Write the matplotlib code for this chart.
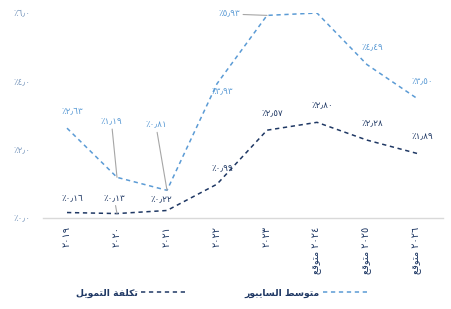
import matplotlib
matplotlib.use("Agg")
import matplotlib.pyplot as plt
from matplotlib.lines import Line2D

plt.rcParams['font.family'] = ['DejaVu Sans']

# ---------------- data ----------------
years = ["٢٠١٩", "٢٠٢٠", "٢٠٢١", "٢٠٢٢", "٢٠٢٣", "٢٠٢٤", "٢٠٢٥", "٢٠٢٦"]
forecast = [False, False, False, False, False, True, True, True]
sibor = [2.63, 1.19, 0.81, 3.93, 5.93, 6.00, 4.49, 3.50]
sibor_labels = ["٢٫٦٣", "١٫١٩", "٠٫٨١", "٣٫٩٣", "٥٫٩٣", None, "٤٫٤٩", "٣٫٥٠"]
cost = [0.16, 0.13, 0.22, 0.99, 2.57, 2.80, 2.28, 1.89]
cost_labels = ["٠٫١٦", "٠٫١٣", "٠٫٢٢", "٠٫٩٩", "٢٫٥٧", "٢٫٨٠", "٢٫٢٨", "١٫٨٩"]
yticks = [0, 2, 4, 6]
ytick_labels = ["٠٫٠", "٢٫٠", "٤٫٠", "٦٫٠"]
name_sibor = "متوسط السايبور"
name_cost = "تكلفة التمويل"
word_forecast = "متوقع"

# label offsets (points) and leader flags
sibor_off = [(4, 12), (-4, 40), (-8, 47), (4, -6), (-27, 1), (0, 0), (4, 12), (4, 12)]
sibor_leader = [False, True, True, False, True, False, False, False]
cost_off = [(4, 10), (-2, 11), (-4, 8), (4, 11), (4, 12), (4, 12), (4, 12), (4, 12)]
cost_leader = [False, True, False, False, False, False, False, False]

# ------------- minimal Arabic shaping (visual order) -------------
FORMS = {
    'ا': ('\uFE8D', '\uFE8E', None, None),
    'ب': ('\uFE8F', '\uFE90', '\uFE91', '\uFE92'),
    'ة': ('\uFE93', '\uFE94', None, None),
    'ت': ('\uFE95', '\uFE96', '\uFE97', '\uFE98'),
    'ر': ('\uFEAD', '\uFEAE', None, None),
    'س': ('\uFEB1', '\uFEB2', '\uFEB3', '\uFEB4'),
    'ط': ('\uFEC1', '\uFEC2', '\uFEC3', '\uFEC4'),
    'ع': ('\uFEC9', '\uFECA', '\uFECB', '\uFECC'),
    'ف': ('\uFED1', '\uFED2', '\uFED3', '\uFED4'),
    'ق': ('\uFED5', '\uFED6', '\uFED7', '\uFED8'),
    'ك': ('\uFED9', '\uFEDA', '\uFEDB', '\uFEDC'),
    'ل': ('\uFEDD', '\uFEDE', '\uFEDF', '\uFEE0'),
    'م': ('\uFEE1', '\uFEE2', '\uFEE3', '\uFEE4'),
    'و': ('\uFEED', '\uFEEE', None, None),
    'ي': ('\uFEF1', '\uFEF2', '\uFEF3', '\uFEF4'),
}
RIGHT_ONLY = set('اةور')


def shape_word(w):
    out = []
    for i, c in enumerate(w):
        if c not in FORMS:
            out.append(c)
            continue
        prev = w[i - 1] if i > 0 else None
        nxt = w[i + 1] if i + 1 < len(w) else None
        jp = prev in FORMS and prev not in RIGHT_ONLY
        jn = nxt in FORMS and c not in RIGHT_ONLY
        iso, fin, ini, med = FORMS[c]
        if jp and jn:
            g = med
        elif jp:
            g = fin
        elif jn:
            g = ini
        else:
            g = iso
        out.append(g)
    return ''.join(reversed(out))


def shape(text):
    return ' '.join(shape_word(w) for w in reversed(text.split(' ')))


def pct(s):
    return "٪" + s


# ---------------- figure ----------------
W, H = 452, 309
fig = plt.figure(figsize=(W / 100, H / 100), dpi=100)
ax = fig.add_axes([43 / W, 1 - 218 / H, 400 / W, 205 / H])

c_sibor = "#5b9bd5"
c_cost = "#1f3864"
c_ytick = "#7f9cc0"
c_leader = "#a6a6a6"

x = list(range(len(years)))
ax.plot(x, sibor, color=c_sibor, lw=1.1, dashes=(2.8, 2.4), solid_capstyle='butt')
ax.plot(x, cost, color=c_cost, lw=1.1, dashes=(2.8, 2.4), solid_capstyle='butt')

for xi, v, lab, off, ld in zip(x, sibor, sibor_labels, sibor_off, sibor_leader):
    if lab is None:
        continue
    ax.annotate(pct(lab), (xi, v), xytext=off, textcoords='offset points',
                ha='center', va='center', fontsize=6.3, color=c_sibor,
                arrowprops=dict(arrowstyle='-', color=c_leader, lw=0.8,
                                shrinkA=0, shrinkB=0) if ld else None)
for xi, v, lab, off, ld in zip(x, cost, cost_labels, cost_off, cost_leader):
    ax.annotate(pct(lab), (xi, v), xytext=off, textcoords='offset points',
                ha='center', va='center', fontsize=6.3, color=c_cost,
                arrowprops=dict(arrowstyle='-', color=c_leader, lw=0.8,
                                shrinkA=0, shrinkB=0) if ld else None)

ax.set_xlim(-0.48, 7.52)
ax.set_ylim(0, 6)
ax.set_yticks(yticks)
ax.set_yticklabels([pct(t) for t in ytick_labels], color=c_ytick, fontsize=6.3)
ax.set_xticks(x)
xl = [(shape(word_forecast) + " " + y) if f else y for y, f in zip(years, forecast)]
ax.set_xticklabels(xl, rotation=90, fontsize=7, color=c_cost, va='top', ha='center')
ax.tick_params(axis='both', length=0)
ax.tick_params(axis='y', pad=9)
ax.tick_params(axis='x', pad=6)
for s in ['top', 'right', 'left']:
    ax.spines[s].set_visible(False)
ax.spines['bottom'].set_color('#d9d9d9')
ax.spines['bottom'].set_linewidth(1.0)

h_cost = Line2D([], [], color=c_cost, lw=1.1, dashes=(2.8, 2.4))
h_sib = Line2D([], [], color=c_sibor, lw=1.1, dashes=(2.8, 2.4))
leg = fig.legend([h_cost, h_sib], [shape(name_cost), shape(name_sibor)],
                 loc='center', bbox_to_anchor=(222 / W, 1 - 293 / H), ncol=2,
                 frameon=False, markerfirst=False, handlelength=4.8,
                 columnspacing=6.3, handletextpad=0.35,
                 prop={'size': 6.7, 'weight': 'bold'})
for t in leg.get_texts():
    t.set_color(c_cost)

fig.savefig("out.png", dpi=100)
